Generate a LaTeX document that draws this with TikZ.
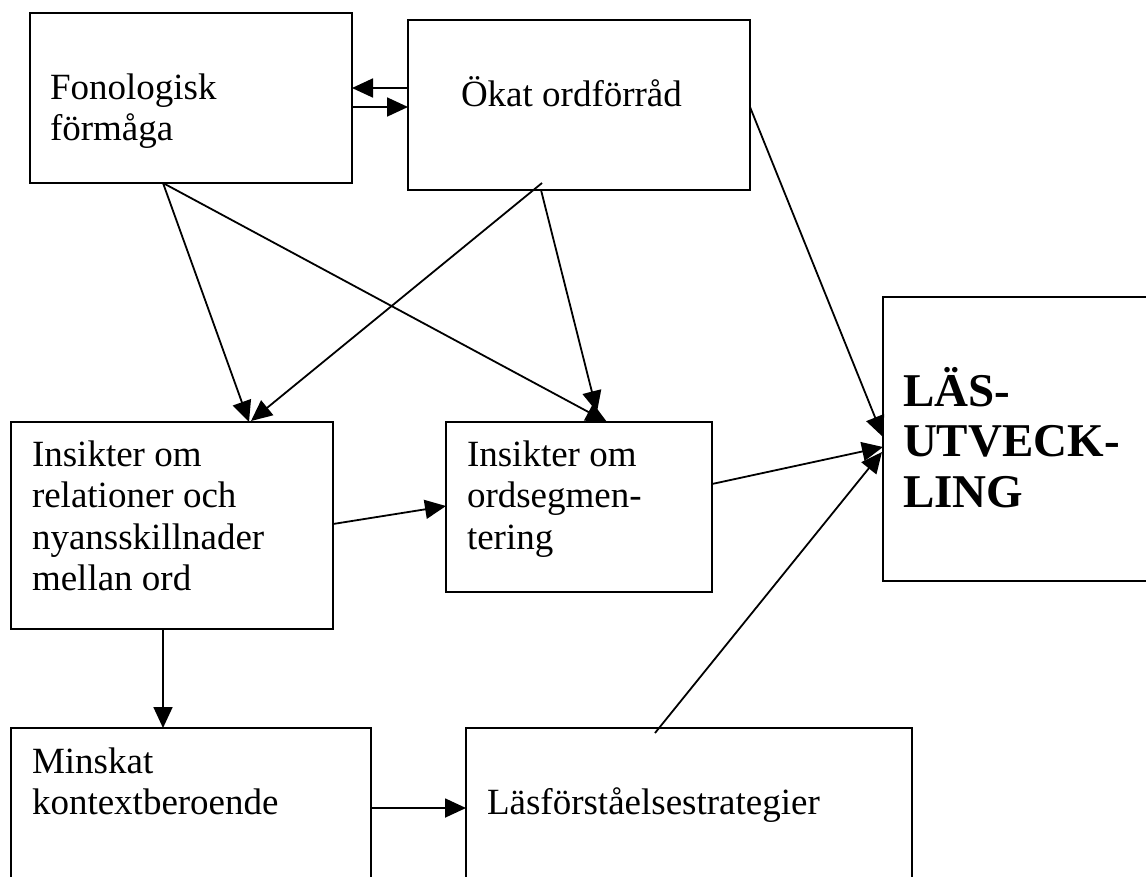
\documentclass[tikz,border=0pt]{standalone}
\usepackage{fontspec}
\setmainfont{Liberation Serif}
\usetikzlibrary{arrows.meta,calc}
\newcommand{\boxlines}[1]{\begin{tabular}[t]{@{}l@{}}#1\end{tabular}}
\tikzset{
  blk/.style={draw, line width=2pt, inner sep=0pt, outer sep=0pt, anchor=north west},
  txt/.style={anchor=base west, inner sep=0pt, outer sep=0pt, font=\fontsize{37}{41.5}\selectfont},
  bigtxt/.style={anchor=base west, inner sep=0pt, outer sep=0pt, font=\fontsize{47}{50.5}\selectfont\bfseries},
  conn/.style={line width=1.8pt, -{Triangle[length=21pt,width=19pt]}}
}
\begin{document}
\begin{tikzpicture}[x=1pt,y=-1pt]
\clip (0,0) rectangle (1146,876);
\fill[white] (0,0) rectangle (1146,876);
% boxes
\node[blk, minimum width=322pt, minimum height=170pt] (fon) at (30,13) {};
\node[blk, minimum width=342pt, minimum height=170pt] (okat) at (408,20) {};
\node[blk, minimum width=300pt, minimum height=284pt] (las) at (883,297) {};
\node[blk, minimum width=322pt, minimum height=207pt] (rel) at (11,422) {};
\node[blk, minimum width=266pt, minimum height=170pt] (seg) at (446,422) {};
\node[blk, minimum width=360pt, minimum height=200pt] (min) at (11,728) {};
\node[blk, minimum width=446pt, minimum height=200pt] (lfs) at (466,728) {};
% texts
\node[txt] (tfon) at (50,99) {\boxlines{Fonologisk\\förmåga}};
\node[txt] (tokat) at (461,106) {Ökat ordförråd};
\node[bigtxt] (tlas) at (903,406) {\boxlines{LÄS-\\UTVECK-\\LING}};
\node[txt] (trel) at (32,466) {\boxlines{Insikter om\\relationer och\\nyansskillnader\\mellan ord}};
\node[txt] (tseg) at (467,466) {\boxlines{Insikter om\\ordsegmen-\\tering}};
\node[txt] (tmin) at (32,773) {\boxlines{Minskat\\kontextberoende}};
\node[txt] (tlfs) at (487,814) {Läsförståelsestrategier};
% connectors
\draw[conn] ($(okat.north west)+(0,68)$) -- ($(fon.north east)+(0,75)$);
\draw[conn] ($(fon.north east)+(0,94)$) -- ($(okat.north west)+(0,87)$);
\draw[conn] ($(fon.south west)+(133,0)$) -- ($(rel.north west)+(238,0)$);
\draw[conn] ($(fon.south west)+(133,0)$) -- ($(seg.north west)+(161,0)$);
\draw[conn] ($(okat.south west)+(134,-7)$) -- ($(rel.north west)+(240,-1)$);
\draw[conn] ($(okat.south west)+(133,0)$) -- ($(seg.north west)+(151,-10)$);
\draw[conn] ($(okat.north east)+(0,87)$) -- ($(las.north west)+(0,140)$);
\draw[conn] ($(rel.north east)+(0,102)$) -- ($(seg.north west)+(0,84)$);
\draw[conn] ($(seg.north east)+(0,62)$) -- ($(las.north west)+(0,150)$);
\draw[conn] ($(lfs.north west)+(189,5)$) -- ($(las.north west)+(-1,155)$);
\draw[conn] ($(rel.south west)+(152,0)$) -- ($(min.north west)+(152,0)$);
\draw[conn] ($(min.north east)+(0,80)$) -- ($(lfs.north west)+(0,80)$);
\end{tikzpicture}
\end{document}
